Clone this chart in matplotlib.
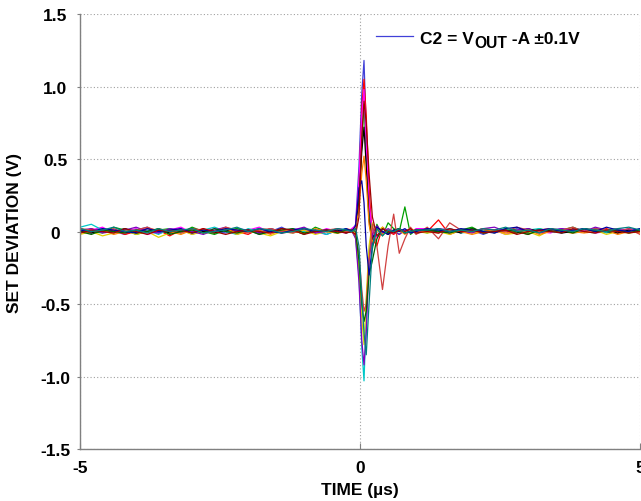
import numpy as np
import matplotlib
matplotlib.use("Agg")
import matplotlib.pyplot as plt

plt.rcParams['font.family'] = ['Liberation Sans', 'DejaVu Sans']

# time samples (us)
t_pre = [-5.0, -4.8, -4.6, -4.4, -4.2, -4.0, -3.8, -3.6, -3.4, -3.2, -3.0, -2.8, -2.6,
         -2.4, -2.2, -2.0, -1.8, -1.6, -1.4, -1.2, -1.0, -0.8, -0.6, -0.4, -0.25]
t_pulse = [-0.15, -0.08, -0.02, 0.03, 0.07, 0.11, 0.16, 0.22, 0.3, 0.4, 0.5, 0.6, 0.7, 0.8, 0.9, 1.0]
t_post = [1.2, 1.4, 1.6, 1.8, 2.0, 2.2, 2.4, 2.6, 2.8, 3.0, 3.2, 3.4, 3.6, 3.8, 4.0,
          4.2, 4.4, 4.6, 4.8, 5.0]

# baseline before the event, one row per captured trace (V)
baseline_pre = [
    [0.01, -0.01, 0.02, 0.00, -0.02, 0.01, 0.03, -0.01, 0.00, 0.02, -0.02, 0.01, 0.00, -0.01, 0.02, 0.01, -0.02, 0.00, 0.03, -0.01, 0.01, 0.00, -0.02, 0.01, 0.00],
    [-0.01, 0.02, 0.00, 0.01, -0.02, 0.00, 0.02, 0.01, -0.03, 0.01, 0.00, 0.02, -0.01, 0.01, 0.00, -0.02, 0.02, 0.01, -0.01, 0.00, 0.02, -0.01, 0.01, 0.00, 0.02],
    [0.02, 0.00, -0.01, 0.03, 0.01, -0.02, 0.00, 0.01, 0.02, -0.01, 0.03, 0.00, -0.02, 0.01, 0.02, 0.00, -0.01, 0.02, 0.00, 0.01, -0.02, 0.03, 0.00, -0.01, 0.01],
    [0.00, 0.01, 0.03, -0.01, 0.00, 0.02, -0.02, 0.00, 0.01, 0.03, -0.01, 0.00, 0.02, 0.01, -0.02, 0.01, 0.03, -0.01, 0.00, 0.02, 0.01, -0.01, 0.02, 0.00, -0.01],
    [0.03, 0.05, 0.01, -0.01, 0.02, 0.00, 0.01, -0.02, 0.02, 0.00, -0.01, 0.01, 0.03, 0.00, -0.02, 0.02, 0.00, 0.01, -0.01, 0.02, 0.00, 0.01, -0.02, 0.01, 0.02],
    [-0.02, 0.00, -0.03, -0.01, 0.01, -0.02, 0.00, -0.04, -0.01, 0.01, -0.02, 0.00, -0.01, 0.02, -0.02, 0.00, -0.01, -0.03, 0.00, -0.01, 0.01, -0.02, 0.00, -0.01, 0.00],
    [0.00, -0.01, 0.01, 0.00, 0.02, -0.01, 0.00, 0.01, -0.01, 0.00, 0.02, 0.00, -0.01, 0.01, 0.00, 0.01, -0.01, 0.00, 0.02, 0.00, -0.01, 0.01, 0.00, 0.01, -0.01],
    [0.01, 0.02, -0.01, 0.00, 0.01, 0.03, 0.00, -0.01, 0.02, 0.01, 0.00, -0.02, 0.01, 0.03, 0.00, 0.01, -0.01, 0.02, 0.00, 0.01, 0.03, -0.01, 0.00, 0.02, 0.01],
    [-0.01, 0.00, 0.01, -0.02, 0.00, 0.01, -0.01, 0.02, 0.00, -0.02, 0.01, -0.01, 0.00, 0.02, -0.01, 0.00, 0.01, -0.02, 0.01, 0.00, -0.01, 0.02, 0.00, -0.01, 0.00],
    [0.02, 0.01, 0.00, 0.02, -0.01, 0.01, 0.03, 0.00, 0.01, -0.01, 0.02, 0.01, 0.00, 0.03, 0.01, -0.01, 0.01, 0.02, 0.00, -0.01, 0.02, 0.00, 0.01, 0.02, 0.00],
    [0.00, -0.02, 0.01, 0.00, -0.01, 0.01, 0.00, 0.02, -0.02, 0.00, 0.01, -0.01, 0.02, 0.00, -0.01, 0.01, -0.02, 0.00, 0.01, 0.02, -0.01, 0.00, 0.01, -0.01, 0.01],
    [0.01, 0.00, 0.02, 0.01, 0.00, -0.01, 0.02, 0.00, 0.01, 0.02, -0.01, 0.01, 0.00, 0.02, 0.01, 0.00, 0.02, 0.00, -0.01, 0.01, 0.02, 0.00, 0.01, 0.00, 0.02],
    [-0.01, 0.01, 0.00, -0.01, 0.02, 0.00, -0.02, 0.01, 0.00, 0.01, -0.01, 0.02, 0.00, -0.02, 0.00, 0.01, 0.00, -0.01, 0.02, 0.01, -0.02, 0.00, 0.01, 0.00, -0.01],
    [0.02, 0.00, 0.01, 0.03, 0.00, 0.01, -0.01, 0.02, 0.00, 0.01, 0.02, -0.01, 0.00, 0.01, 0.03, 0.00, 0.02, 0.01, -0.01, 0.00, 0.02, 0.01, 0.00, 0.02, 0.01],
]

# the transient itself
pulse = [
    [0.00, 0.05, 0.45, 0.95, 1.18, 0.70, 0.15, -0.05, 0.02, -0.02, 0.01, 0.00, 0.02, -0.01, 0.01, 0.00],
    [0.01, 0.03, 0.30, 0.85, 1.05, 0.80, 0.30, -0.05, -0.10, 0.03, 0.00, -0.02, 0.01, 0.00, 0.02, -0.01],
    [0.00, 0.02, 0.20, 0.60, 0.88, 0.55, 0.10, -0.12, 0.05, -0.03, 0.06, 0.02, 0.00, 0.17, -0.02, 0.01],
    [0.02, 0.04, 0.35, 0.80, 0.98, 0.60, 0.20, 0.00, -0.04, 0.02, 0.01, -0.01, 0.02, 0.00, -0.01, 0.02],
    [0.00, -0.04, -0.30, -0.80, -1.03, -0.60, -0.15, 0.05, 0.02, -0.02, 0.00, 0.01, -0.02, 0.01, 0.00, -0.01],
    [0.01, -0.02, -0.25, -0.60, -0.78, -0.45, -0.10, 0.06, 0.00, 0.03, -0.02, 0.01, 0.00, -0.01, 0.02, 0.00],
    [0.00, 0.02, 0.20, 0.55, 0.72, 0.45, 0.08, -0.06, 0.03, 0.00, -0.02, 0.01, 0.02, -0.01, 0.00, 0.01],
    [0.01, -0.05, -0.35, -0.75, -0.92, -0.70, -0.20, -0.02, 0.04, -0.01, 0.02, 0.00, -0.02, 0.01, 0.00, 0.01],
    [0.00, 0.03, 0.15, 0.40, 0.52, 0.35, 0.05, -0.08, 0.02, -0.02, 0.01, 0.00, 0.01, -0.02, 0.02, 0.00],
    [0.00, -0.03, -0.15, -0.40, -0.55, -0.50, -0.20, 0.05, -0.10, -0.40, -0.10, 0.12, -0.15, -0.05, 0.03, -0.02],
    [0.01, 0.00, -0.20, -0.50, -0.62, -0.55, -0.30, -0.20, -0.05, 0.02, -0.01, 0.00, 0.02, -0.01, 0.00, 0.01],
    [0.00, 0.04, 0.30, 0.35, 0.20, -0.10, -0.30, -0.10, 0.03, 0.00, -0.02, 0.01, 0.00, 0.02, -0.01, 0.00],
    [0.00, -0.02, 0.10, 0.65, 0.90, 0.75, 0.40, 0.10, -0.03, 0.02, 0.00, -0.01, 0.01, 0.00, 0.02, -0.01],
    [0.00, 0.02, -0.10, -0.45, -0.70, -0.85, -0.50, -0.10, 0.02, -0.03, 0.01, 0.00, 0.02, -0.01, 0.00, 0.01],
]

# baseline after the event
baseline_post = [
    [0.01, -0.01, 0.02, 0.00, 0.01, -0.02, 0.01, 0.00, 0.02, -0.01, 0.00, 0.01, 0.02, -0.01, 0.00, 0.02, 0.01, -0.01, 0.01, 0.00],
    [0.00, 0.08, -0.02, 0.01, 0.00, 0.02, -0.01, 0.01, 0.00, -0.02, 0.01, 0.02, 0.00, -0.01, 0.01, 0.00, 0.02, -0.01, 0.00, 0.01],
    [-0.01, 0.02, 0.00, 0.01, 0.03, -0.01, 0.00, 0.02, 0.01, -0.01, 0.02, 0.00, 0.01, 0.03, 0.00, -0.01, 0.01, 0.02, 0.00, 0.01],
    [0.02, 0.00, -0.01, 0.01, 0.00, 0.02, 0.01, -0.02, 0.00, 0.01, 0.00, -0.01, 0.02, 0.00, 0.01, -0.01, 0.00, 0.02, 0.01, 0.00],
    [0.00, 0.01, 0.02, -0.01, 0.00, 0.01, -0.01, 0.02, 0.00, 0.01, 0.02, 0.00, -0.01, 0.01, 0.00, 0.02, -0.01, 0.01, 0.00, 0.02],
    [-0.01, 0.00, -0.02, 0.01, -0.01, 0.00, 0.01, -0.02, -0.01, 0.00, -0.03, 0.01, 0.00, -0.01, 0.00, 0.01, -0.02, 0.00, -0.01, 0.00],
    [0.01, 0.00, 0.01, -0.01, 0.02, 0.00, 0.01, 0.00, -0.01, 0.02, 0.00, 0.01, -0.01, 0.00, 0.02, 0.01, 0.00, -0.01, 0.01, 0.00],
    [0.00, 0.02, 0.01, 0.00, -0.01, 0.02, 0.03, 0.00, 0.01, 0.02, -0.01, 0.00, 0.02, 0.01, 0.00, 0.03, 0.01, 0.00, 0.02, 0.01],
    [0.00, -0.01, 0.01, 0.00, -0.02, 0.00, 0.01, -0.01, 0.00, 0.01, -0.02, 0.00, 0.01, 0.00, -0.01, 0.00, 0.01, -0.02, 0.00, -0.01],
    [0.03, -0.05, 0.06, 0.01, 0.00, 0.02, 0.01, 0.00, 0.03, 0.01, 0.00, 0.02, 0.01, 0.03, 0.00, 0.02, 0.01, 0.00, 0.02, -0.02],
    [0.01, 0.00, -0.01, 0.01, 0.02, -0.01, 0.00, 0.01, 0.00, -0.02, 0.01, 0.00, 0.01, -0.01, 0.02, 0.00, 0.00, 0.01, -0.01, 0.01],
    [0.02, 0.01, 0.00, 0.02, 0.01, 0.00, -0.01, 0.02, 0.03, 0.00, 0.01, 0.02, 0.00, 0.01, 0.02, 0.00, 0.03, 0.01, 0.00, 0.02],
    [0.00, -0.01, 0.02, 0.00, 0.01, -0.01, 0.00, 0.01, -0.02, 0.00, 0.01, 0.00, -0.01, 0.02, 0.00, -0.01, 0.01, 0.00, -0.01, 0.00],
    [0.01, 0.02, 0.00, 0.01, 0.00, 0.02, 0.01, 0.03, 0.00, 0.01, -0.01, 0.02, 0.01, 0.00, 0.02, 0.01, 0.00, 0.02, 0.03, 0.01],
]

trace_colors = ['#4040d8', '#ff0000', '#00a000', '#ff00ff', '#00c8c8', '#e0d000', '#000000',
                '#8000c0', '#ff8000', '#d04040', '#006400', '#0000a0', '#a00000', '#008080']

FS = 12.5
t_all = np.array(t_pre + t_pulse + t_post)

fig = plt.figure(figsize=(6.41, 5.02), dpi=100)
ax = fig.add_axes([0.125, 0.1036, 0.8735, 0.8664])

for i in range(len(pulse)):
    y = baseline_pre[i] + pulse[i] + baseline_post[i]
    ax.plot(t_all, y, color=trace_colors[i], lw=0.9,
            label='C2 = V' if i == 0 else None)

ax.set_xlim(-5, 5)
ax.set_ylim(-1.5, 1.5)
ax.set_xticks([-5, 0, 5])
ax.set_xticklabels(['-5', '0', '5'])
ax.set_yticks([-1.5, -1.0, -0.5, 0, 0.5, 1.0, 1.5])
ax.set_yticklabels(['-1.5', '-1.0', '-0.5', '0', '0.5', '1.0', '1.5'])

for lab in ax.get_xticklabels() + ax.get_yticklabels():
    lab.set_fontweight('bold')
    lab.set_fontsize(FS)
for lab in ax.get_yticklabels():
    lab.set_horizontalalignment('center')

ax.tick_params(axis='x', direction='in', length=4, pad=8, color='#808080')
ax.tick_params(axis='y', direction='out', length=2, pad=16, color='#808080')

ax.grid(True, linestyle=(0, (1, 2)), color='#a0a0a0', lw=0.8)
ax.set_axisbelow(True)
for s in ['top', 'right']:
    ax.spines[s].set_visible(False)
for s in ['left', 'bottom']:
    ax.spines[s].set_color('#808080')
    ax.spines[s].set_linewidth(1.0)

ax.set_xlabel('TIME (µs)', fontsize=FS, fontweight='bold', labelpad=5)
ax.set_ylabel('SET DEVIATION (V)', fontsize=FS, fontweight='bold')
ax.yaxis.set_label_coords(-0.104, 0.5)

leg = ax.legend(loc='center left', bbox_to_anchor=(0.529, 0.945), frameon=False,
                prop={'weight': 'bold', 'size': FS}, handlelength=2.1,
                handletextpad=0.4, borderpad=0, borderaxespad=0)
leg_txt = leg.get_texts()[0]
sub = ax.annotate('OUT', xy=(1, 0), xycoords=leg_txt, xytext=(0.3, -3.5),
                  textcoords='offset points', ha='left', va='bottom',
                  fontsize=FS * 0.9, fontweight='bold')
ax.annotate(' -A ±0.1V', xy=(1, 0), xycoords=(sub, leg_txt), xytext=(0, 0),
            textcoords='offset points', ha='left', va='bottom',
            fontsize=FS, fontweight='bold')

# first draw places the legend, so the chained labels find it on the second
fig.canvas.draw()
fig.savefig('out.png', dpi=100)
